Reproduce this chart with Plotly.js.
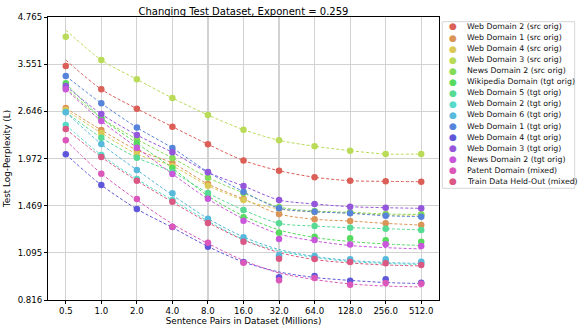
<!DOCTYPE html>
<html>
<head>
<meta charset="utf-8">
<script src="https://cdn.plot.ly/plotly-3.0.1.min.js"></script>
<style>
    html, body { margin: 0; padding: 0; background: #ffffff; }
    #scalingChart { width: 581px; height: 332px; }
</style>
</head>
<body>
<div id="scalingChart"></div>
<script>
// sentence pairs (millions) and axis ticks
const sentencePairs = [0.5, 1, 2, 4, 8, 16, 32, 64, 128, 256, 512];
const xTickText = ['0.5', '1.0', '2.0', '4.0', '8.0', '16.0', '32.0', '64.0', '128.0', '256.0', '512.0'];
const yTickVals = [0.816, 1.095, 1.469, 1.972, 2.646, 3.551, 4.765];

const webDomain2Src = [3.510, 3.036, 2.690, 2.404, 2.154, 1.947, 1.827, 1.754, 1.717, 1.710, 1.706];
const webDomain1Src = [2.701, 2.355, 2.079, 1.917, 1.682, 1.532, 1.395, 1.350, 1.335, 1.316, 1.302];
const webDomain4Src = [2.668, 2.312, 2.028, 1.882, 1.664, 1.522, 1.439, 1.413, 1.404, 1.386, 1.386];
const webDomain3Src = [4.213, 3.644, 3.231, 2.875, 2.586, 2.360, 2.209, 2.128, 2.070, 2.028, 2.028];
const newsDomain2Src = [3.060, 2.538, 2.223, 1.978, 1.750, 1.590, 1.457, 1.421, 1.410, 1.395, 1.392];
const wikipediaTgt = [3.151, 2.538, 2.168, 1.858, 1.551, 1.367, 1.241, 1.211, 1.199, 1.184, 1.174];
const webDomain5Tgt = [2.635, 2.245, 1.982, 1.813, 1.590, 1.430, 1.316, 1.294, 1.281, 1.273, 1.263];
const webDomain2Tgt = [2.430, 2.015, 1.735, 1.522, 1.335, 1.190, 1.070, 1.064, 1.044, 1.037, 1.028];
const webDomain6Tgt = [2.630, 2.158, 1.836, 1.587, 1.355, 1.206, 1.078, 1.074, 1.052, 1.052, 1.036];
const webDomain1Tgt = [3.298, 2.782, 2.392, 2.105, 1.813, 1.603, 1.446, 1.415, 1.401, 1.380, 1.372];
const webDomain4Tgt = [2.024, 1.671, 1.439, 1.286, 1.138, 1.034, 0.940, 0.948, 0.920, 0.928, 0.909];
const webDomain3Tgt = [3.099, 2.602, 2.283, 2.049, 1.809, 1.661, 1.522, 1.485, 1.460, 1.451, 1.445];
const newsDomain2Tgt = [3.036, 2.491, 2.109, 1.790, 1.535, 1.338, 1.194, 1.186, 1.153, 1.155, 1.143];
const patentMixed = [2.209, 1.794, 1.532, 1.289, 1.166, 1.030, 0.923, 0.936, 0.898, 0.907, 0.903];
const heldOutMixed = [2.370, 1.990, 1.717, 1.506, 1.319, 1.174, 1.056, 1.054, 1.034, 1.026, 1.015];

// dashed fit curves where they run visibly apart from the dots
const webDomain2SrcFit = [3.644, 3.036, 2.690, 2.404, 2.154, 1.947, 1.827, 1.754, 1.717, 1.710, 1.706];
const webDomain3SrcFit = [4.394, 3.644, 3.231, 2.875, 2.586, 2.360, 2.209, 2.128, 2.070, 2.028, 2.028];
const wikipediaTgtFit = [3.151, 2.538, 2.168, 1.858, 1.561, 1.378, 1.263, 1.205, 1.175, 1.157, 1.146];
const webDomain2TgtFit = [2.430, 2.015, 1.735, 1.522, 1.335, 1.190, 1.108, 1.064, 1.037, 1.025, 1.018];
const webDomain6TgtFit = [2.630, 2.158, 1.836, 1.570, 1.356, 1.209, 1.118, 1.070, 1.044, 1.031, 1.025];
const webDomain4TgtFit = [2.024, 1.671, 1.439, 1.282, 1.139, 1.034, 0.972, 0.939, 0.922, 0.910, 0.904];
const newsDomain2TgtFit = [3.036, 2.491, 2.109, 1.790, 1.532, 1.352, 1.231, 1.179, 1.146, 1.131, 1.122];
const patentMixedFit = [2.209, 1.794, 1.522, 1.311, 1.161, 1.044, 0.966, 0.927, 0.902, 0.890, 0.885];
const heldOutMixedFit = [2.370, 1.990, 1.717, 1.503, 1.323, 1.186, 1.097, 1.050, 1.028, 1.015, 1.009];

const seriesNames = [
    'Web Domain 2 (src orig)', 'Web Domain 1 (src orig)', 'Web Domain 4 (src orig)',
    'Web Domain 3 (src orig)', 'News Domain 2 (src orig)', 'Wikipedia Domain (tgt orig)',
    'Web Domain 5 (tgt orig)', 'Web Domain 2 (tgt orig)', 'Web Domain 6 (tgt orig)',
    'Web Domain 1 (tgt orig)', 'Web Domain 4 (tgt orig)', 'Web Domain 3 (tgt orig)',
    'News Domain 2 (tgt orig)', 'Patent Domain (mixed)', 'Train Data Held-Out (mixed)'
];
const seriesValues = [
    webDomain2Src, webDomain1Src, webDomain4Src, webDomain3Src, newsDomain2Src,
    wikipediaTgt, webDomain5Tgt, webDomain2Tgt, webDomain6Tgt, webDomain1Tgt,
    webDomain4Tgt, webDomain3Tgt, newsDomain2Tgt, patentMixed, heldOutMixed
];
const fitValues = [
    webDomain2SrcFit, webDomain1Src, webDomain4Src, webDomain3SrcFit, newsDomain2Src,
    wikipediaTgtFit, webDomain5Tgt, webDomain2TgtFit, webDomain6TgtFit, webDomain1Tgt,
    webDomain4TgtFit, webDomain3Tgt, newsDomain2TgtFit, patentMixedFit, heldOutMixedFit
];
// seaborn hls palette, 15 colours
const seriesColors = [
    '#db5f57', '#db9457', '#dbc957', '#b9db57', '#84db57', '#57db5f', '#57db94', '#57dbc9',
    '#57b9db', '#5784db', '#5f57db', '#9457db', '#c957db', '#db57b9', '#db5784'
];

const FONT = 'DejaVu Sans, Verdana, sans-serif';

/**
 * Builds the dashed fit curve and the dots for every test set.
 * @returns list of traces, curves first so dots sit on top.
 */
function buildTraces() {
    let curves = [];
    let dots = [];

    for (let i = 0; i < seriesValues.length; i++) {
        curves.push({
            x: sentencePairs,
            y: fitValues[i],
            type: 'scatter',
            mode: 'lines',
            line: { color: seriesColors[i], width: 1, dash: '3px,2px', shape: 'spline', smoothing: 0.8 },
            hoverinfo: 'skip',
            showlegend: false
        });

        dots.push({
            x: sentencePairs,
            y: seriesValues[i],
            type: 'scatter',
            mode: 'markers',
            marker: { color: seriesColors[i], size: 6.5 },
            name: seriesNames[i],
            showlegend: false
        });
    }

    return curves.concat(dots);
}

/**
 * Compact legend on the right, drawn with annotations.
 * @returns annotations and the frame shape
 */
function buildLegend() {
    const annotations = [];
    const top = 0.9666;
    const step = 0.0391;

    for (let i = 0; i < seriesNames.length; i++) {
        let y = top - i * step;

        annotations.push({
            xref: 'paper', yref: 'paper', x: 1.035, y: y,
            xanchor: 'center', yanchor: 'middle', showarrow: false,
            text: '\u25CF',
            font: { family: FONT, size: 9, color: seriesColors[i] }
        });

        annotations.push({
            xref: 'paper', yref: 'paper', x: 1.066, y: y,
            xanchor: 'left', yanchor: 'middle', showarrow: false,
            text: seriesNames[i],
            font: { family: FONT, size: 7.8, color: '#111111' }
        });
    }

    const frame = {
        type: 'rect', xref: 'paper', yref: 'paper',
        x0: 1.0084, x1: 1.347, y0: 0.3947, y1: 0.9834,
        line: { color: '#d6d6d6', width: 1 },
        fillcolor: 'rgba(255,255,255,0.8)',
        layer: 'below'
    };

    return { annotations: annotations, shapes: [frame] };
}

function plotScaling() {
    const legend = buildLegend();

    const layout = {
        width: 581,
        height: 332,
        margin: { l: 48, r: 142, t: 17, b: 32 },
        paper_bgcolor: '#ffffff',
        plot_bgcolor: '#ffffff',
        font: { family: FONT, size: 8.6, color: '#000000' },
        showlegend: false,
        title: {
            text: 'Changing Test Dataset, Exponent = 0.259',
            font: { family: FONT, size: 10, color: '#000000' },
            x: 0.419, xanchor: 'center',
            y: 0.965, yanchor: 'middle'
        },
        xaxis: {
            type: 'log',
            range: [-0.4515, 2.8598],
            tickvals: sentencePairs,
            ticktext: xTickText,
            ticks: 'outside', ticklen: 3, tickcolor: '#000000',
            showgrid: true, gridcolor: '#d2d2d2', gridwidth: 1.2,
            showline: true, linecolor: '#000000', linewidth: 1, mirror: true,
            zeroline: false,
            title: { text: 'Sentence Pairs in Dataset (Millions)', font: { family: FONT, size: 8.8 }, standoff: 2 }
        },
        yaxis: {
            type: 'log',
            range: [Math.log10(0.816), Math.log10(4.765)],
            tickvals: yTickVals,
            ticktext: yTickVals.map(v => v.toFixed(3)),
            ticks: 'outside', ticklen: 3, tickcolor: '#000000',
            showgrid: true, gridcolor: '#d2d2d2', gridwidth: 1.2,
            showline: true, linecolor: '#000000', linewidth: 1, mirror: true,
            zeroline: false,
            title: { text: 'Test Log-Perplexity (L)', font: { family: FONT, size: 8.8 }, standoff: 5 }
        },
        annotations: legend.annotations,
        shapes: legend.shapes
    };

    Plotly.newPlot('scalingChart', buildTraces(), layout, { displayModeBar: false, staticPlot: true });
}

plotScaling();
</script>
</body>
</html>
